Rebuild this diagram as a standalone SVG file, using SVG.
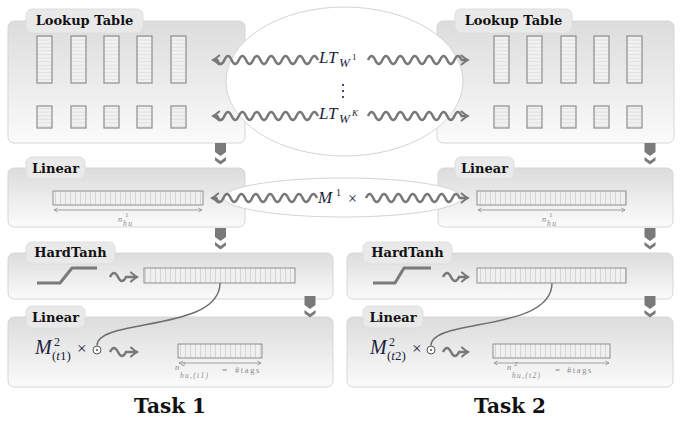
<svg xmlns="http://www.w3.org/2000/svg" width="683" height="421" viewBox="0 0 683 421">
<defs>
<style>
.box{fill:url(#g);stroke:#d6d6d6;stroke-width:1}
.pill{fill:#e9e9e9;stroke:#dedede;stroke-width:1}
.lbl{font-family:"DejaVu Serif",serif;font-weight:bold;font-size:13px;fill:#111;text-anchor:middle}
.task{font-family:"DejaVu Serif",serif;font-weight:bold;font-size:20px;fill:#111;text-anchor:middle}
.col{fill:url(#hc);stroke:#8e8e8e;stroke-width:1.2}
.vec{fill:url(#vc);stroke:#8e8e8e;stroke-width:1}
.wave{fill:none;stroke:#787878;stroke-width:2.5;marker-end:url(#ah)}
.math{font-family:"Liberation Serif",serif;font-style:italic;fill:#1a1f3d}
.rm{font-family:"Liberation Serif",serif;font-style:normal;fill:#1a1f3d}
.dim{stroke:#8a8a8a;stroke-width:0.8;fill:none;marker-start:url(#sa);marker-end:url(#sa)}
.dl{font-family:"Liberation Serif",serif;font-style:italic;fill:#8a8a8a}
.dr{font-family:"Liberation Serif",serif;fill:#8a8a8a}
.ell{fill:#fff;stroke:#d4d4d4;stroke-width:1}
.blk{fill:#7a7a7a}
.curve{fill:none;stroke:#6e6e6e;stroke-width:1.4}
.ht{fill:none;stroke:#7a7a7a;stroke-width:3;stroke-linejoin:round}
.odot{fill:#fff;stroke:#555;stroke-width:1}
</style>
<linearGradient id="g" x1="0" y1="0" x2="0" y2="1"><stop offset="0" stop-color="#dcdcdc"/><stop offset="1" stop-color="#fbfbfb"/></linearGradient>
<pattern id="hc" width="10" height="3.6" patternUnits="userSpaceOnUse"><rect width="10" height="3.6" fill="#f1f1f1"/><line x1="0" y1="0.5" x2="10" y2="0.5" stroke="#d9d9d9" stroke-width="0.7"/></pattern>
<pattern id="vc" width="5" height="10" patternUnits="userSpaceOnUse"><rect width="5" height="10" fill="#f0f0f0"/><line x1="0.5" y1="0" x2="0.5" y2="10" stroke="#cacaca" stroke-width="0.7"/></pattern>
<marker id="ah" viewBox="-8 -6 10 12" refX="0" refY="0" markerWidth="10" markerHeight="12" markerUnits="userSpaceOnUse" orient="auto"><path d="M-6,-4.5 Q-2,-1 0,0 Q-2,1 -6,4.5" fill="none" stroke="#787878" stroke-width="2" stroke-linecap="round"/></marker>
<marker id="sa" viewBox="-5 -3 6 6" refX="0" refY="0" markerWidth="6" markerHeight="6" markerUnits="userSpaceOnUse" orient="auto-start-reverse"><path d="M-3.5,-2 Q-1,-0.5 0,0 Q-1,0.5 -3.5,2" fill="none" stroke="#8a8a8a" stroke-width="0.8"/></marker>
<g id="down"><path d="M-5.5,0 H5.5 V9 L0,13 L-5.5,9 Z"/><path d="M-5.5,14 L0,18 L5.5,14 V17.5 L0,21.5 L-5.5,17.5 Z"/></g>
</defs>

<!-- Task 1 -->
<g id="lookup1">
<rect class="box" x="8" y="21" width="237" height="122" rx="6"/>
<rect class="pill" x="26" y="9" width="117" height="24" rx="6"/>
<text class="lbl" x="84.5" y="25">Lookup Table</text>
<rect class="col" x="37" y="36" width="15" height="47"/>
<rect class="col" x="71" y="36" width="15" height="47"/>
<rect class="col" x="104" y="36" width="15" height="47"/>
<rect class="col" x="137" y="36" width="15" height="47"/>
<rect class="col" x="171" y="36" width="15" height="47"/>
<rect class="col" x="37" y="106" width="15" height="22"/>
<rect class="col" x="71" y="106" width="15" height="22"/>
<rect class="col" x="104" y="106" width="15" height="22"/>
<rect class="col" x="137" y="106" width="15" height="22"/>
<rect class="col" x="171" y="106" width="15" height="22"/>
</g>
<g id="linear1">
<rect class="box" x="8" y="168" width="237" height="59" rx="6"/>
<rect class="pill" x="26" y="157" width="59" height="22" rx="6"/>
<text class="lbl" x="55.5" y="173">Linear</text>
<rect class="vec" x="53" y="191" width="150" height="14"/>
<line class="dim" x1="54" y1="210" x2="202" y2="210"/>
<text class="dl" x="118" y="222" font-size="8.5">n</text>
<text class="dr" x="125" y="217" font-size="7">1</text>
<text class="dl" x="123" y="226" font-size="7.5" letter-spacing="1.5">hu</text>
</g>
<g id="hardtanh1">
<rect class="box" x="8" y="253" width="325" height="46" rx="6"/>
<rect class="pill" x="26" y="242" width="89" height="22" rx="6"/>
<text class="lbl" x="70.5" y="257">HardTanh</text>
<polyline class="ht" points="37,283 60,283 72,268 97,268"/>
<rect class="vec" x="144" y="268" width="151" height="15"/>
</g>
<g id="linear1b">
<rect class="box" x="8" y="317" width="325" height="70" rx="6"/>
<rect class="pill" x="26" y="306" width="59" height="22" rx="6"/>
<text class="lbl" x="55.5" y="322">Linear</text>
<text class="math" x="35" y="354" font-size="20">M</text>
<text class="rm" x="54" y="346" font-size="12">2</text>
<text class="rm" x="52" y="360" font-size="13">(<tspan class="math">t</tspan>1)</text>
<text class="rm" x="77" y="354" font-size="17">×</text>
<rect class="vec" x="178" y="344" width="84" height="14"/>
<line class="dim" x1="179" y1="363" x2="261" y2="363"/>
<text class="dl" x="175" y="370" font-size="8.5">n</text>
<text class="dr" x="182" y="366" font-size="7">2</text>
<text class="dl" x="180" y="378" font-size="7.5" letter-spacing="1.3">hu,(t1)</text>
<text class="dr" x="222" y="373" font-size="9">=</text>
<text class="dr" x="235" y="373" font-size="8.5" letter-spacing="1.6">#tags</text>
</g>
<text class="task" x="170" y="413">Task 1</text>

<!-- Task 2 -->
<g id="lookup2">
<rect class="box" x="437" y="21" width="237" height="122" rx="6"/>
<rect class="pill" x="455" y="9" width="117" height="24" rx="6"/>
<text class="lbl" x="513.5" y="25">Lookup Table</text>
<rect class="col" x="494" y="36" width="15" height="47"/>
<rect class="col" x="527" y="36" width="15" height="47"/>
<rect class="col" x="561" y="36" width="15" height="47"/>
<rect class="col" x="594" y="36" width="15" height="47"/>
<rect class="col" x="627" y="36" width="15" height="47"/>
<rect class="col" x="494" y="106" width="15" height="22"/>
<rect class="col" x="527" y="106" width="15" height="22"/>
<rect class="col" x="561" y="106" width="15" height="22"/>
<rect class="col" x="594" y="106" width="15" height="22"/>
<rect class="col" x="627" y="106" width="15" height="22"/>
</g>
<g id="linear2">
<rect class="box" x="438" y="168" width="235" height="59" rx="6"/>
<rect class="pill" x="455" y="157" width="59" height="22" rx="6"/>
<text class="lbl" x="484.5" y="173">Linear</text>
<rect class="vec" x="477" y="191" width="149" height="14"/>
<line class="dim" x1="478" y1="210" x2="625" y2="210"/>
<text class="dl" x="542" y="222" font-size="8.5">n</text>
<text class="dr" x="549" y="217" font-size="7">1</text>
<text class="dl" x="547" y="226" font-size="7.5" letter-spacing="1.5">hu</text>
</g>
<g id="hardtanh2">
<rect class="box" x="347" y="253" width="326" height="46" rx="6"/>
<rect class="pill" x="363" y="242" width="89" height="22" rx="6"/>
<text class="lbl" x="407.5" y="257">HardTanh</text>
<polyline class="ht" points="373,283 395,283 404,268 431,268"/>
<rect class="vec" x="477" y="268" width="149" height="15"/>
</g>
<g id="linear2b">
<rect class="box" x="347" y="317" width="326" height="70" rx="6"/>
<rect class="pill" x="363" y="306" width="60" height="22" rx="6"/>
<text class="lbl" x="393" y="322">Linear</text>
<text class="math" x="370" y="354" font-size="20">M</text>
<text class="rm" x="389" y="346" font-size="12">2</text>
<text class="rm" x="387" y="360" font-size="13">(<tspan class="math">t</tspan>2)</text>
<text class="rm" x="412" y="354" font-size="17">×</text>
<rect class="vec" x="493" y="344" width="117" height="14"/>
<line class="dim" x1="494" y1="363" x2="609" y2="363"/>
<text class="dl" x="507" y="370" font-size="8.5">n</text>
<text class="dr" x="514" y="366" font-size="7">2</text>
<text class="dl" x="512" y="378" font-size="7.5" letter-spacing="1.3">hu,(t2)</text>
<text class="dr" x="555" y="373" font-size="9">=</text>
<text class="dr" x="567" y="373" font-size="8.5" letter-spacing="1.6">#tags</text>
</g>
<text class="task" x="510" y="413">Task 2</text>

<!-- shared parameters -->
<g id="shared-lookup">
<ellipse class="ell" cx="344.5" cy="81.5" rx="118.5" ry="74.5"/>
<text class="math" x="319" y="63" font-size="17">LT</text>
<text class="math" x="339" y="67" font-size="13">W</text>
<text class="rm" x="352" y="60" font-size="9">1</text>
<circle cx="343" cy="85" r="1.1" fill="#1a1f3d"/>
<circle cx="343" cy="91" r="1.1" fill="#1a1f3d"/>
<circle cx="343" cy="97" r="1.1" fill="#1a1f3d"/>
<text class="math" x="319" y="119" font-size="17">LT</text>
<text class="math" x="339" y="123" font-size="13">W</text>
<text class="math" x="352" y="116" font-size="9">K</text>
</g>
<g id="shared-linear">
<ellipse class="ell" cx="343" cy="197.5" rx="119" ry="19.5"/>
<text class="math" x="318" y="203" font-size="17">M</text>
<text class="rm" x="336" y="196" font-size="10">1</text>
<text class="rm" x="348" y="204" font-size="16">×</text>
</g>

<g id="connectors">
<path class="wave" d="M318,60 q-3.6,-8 -7.2,0 t-7.2,0 t-7.2,0 t-7.2,0 t-7.2,0 t-7.2,0 t-7.2,0 t-7.2,0 t-7.2,0 t-7.2,0 t-7.2,0 t-7.2,0 t-7.2,0 t-7.2,0 h-4"/>
<path class="wave" d="M368,60 q3.6,-8 7.2,0 t7.2,0 t7.2,0 t7.2,0 t7.2,0 t7.2,0 t7.2,0 t7.2,0 t7.2,0 t7.2,0 t7.2,0 t7.2,0 t7.2,0 h6"/>
<path class="wave" d="M318,116 q-3.6,-8 -7.2,0 t-7.2,0 t-7.2,0 t-7.2,0 t-7.2,0 t-7.2,0 t-7.2,0 t-7.2,0 t-7.2,0 t-7.2,0 t-7.2,0 t-7.2,0 t-7.2,0 t-7.2,0 h-4"/>
<path class="wave" d="M368,116 q3.6,-8 7.2,0 t7.2,0 t7.2,0 t7.2,0 t7.2,0 t7.2,0 t7.2,0 t7.2,0 t7.2,0 t7.2,0 t7.2,0 t7.2,0 t7.2,0 h6"/>
<path class="wave" d="M317,198 q-3.6,-8 -7.2,0 t-7.2,0 t-7.2,0 t-7.2,0 t-7.2,0 t-7.2,0 t-7.2,0 t-7.2,0 t-7.2,0 t-7.2,0 t-7.2,0 t-7.2,0 t-7.2,0 t-7.2,0 h-4"/>
<path class="wave" d="M366,198 q3.6,-8 7.2,0 t7.2,0 t7.2,0 t7.2,0 t7.2,0 t7.2,0 t7.2,0 t7.2,0 t7.2,0 t7.2,0 t7.2,0 t7.2,0 t7.2,0 h8"/>
<path class="wave" d="M110,277 q4,-8 8,0 t8,0 h11"/>
<path class="wave" d="M443,277 q4,-8 8,0 t8,0 h9"/>
<path class="wave" d="M110,352 q4,-8 8,0 t8,0 h11"/>
<path class="wave" d="M443,352 q4,-8 8,0 t8,0 h9"/>
<path class="curve" d="M97,345.5 C97,318 220,332 220,283"/>
<path class="curve" d="M431,345.5 C431,318 552,332 552,283"/>
<circle class="odot" cx="97" cy="350" r="4"/><circle cx="97" cy="350" r="1" fill="#555"/>
<circle class="odot" cx="431" cy="350" r="4"/><circle cx="431" cy="350" r="1" fill="#555"/>
<g class="blk">
<use href="#down" x="220.5" y="143"/>
<use href="#down" x="220.5" y="228"/>
<use href="#down" x="310" y="296"/>
<use href="#down" x="650" y="143"/>
<use href="#down" x="650" y="228"/>
<use href="#down" x="650" y="296"/>
</g>
</g>
</svg>
